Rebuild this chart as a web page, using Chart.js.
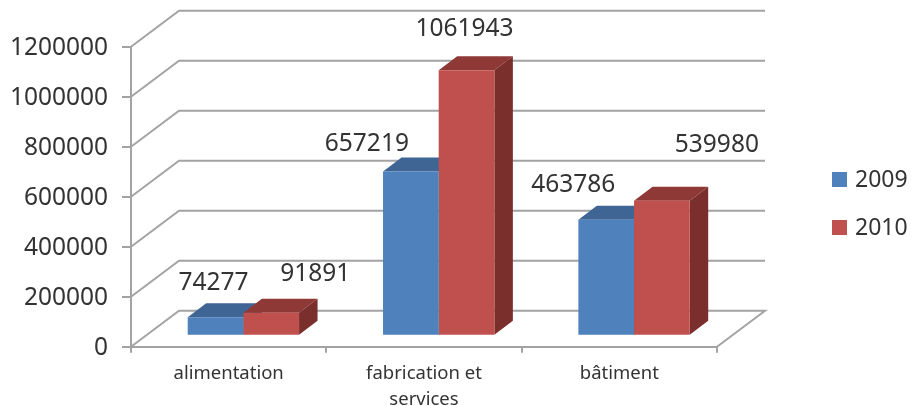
<!DOCTYPE html>
<html>
<head>
<meta charset="utf-8">
<style>
  html, body { margin: 0; padding: 0; background: #fff; }
  canvas { display: block; }
</style>
<script src="https://cdn.jsdelivr.net/npm/chart.js@4"></script>
</head>
<body>
<canvas id="chart" width="912" height="406"></canvas>
<script>
const categories = ['alimentation', ['fabrication et', 'services'], 'bâtiment'];
const years = ['2009', '2010'];
const values2009 = [74277, 657219, 463786];
const values2010 = [91891, 1061943, 539980];
const yTickStep = 200000;
const yMax = 1200000;

const fontName = '"Noto Sans", sans-serif';
const textColor = '#333333';
const gridColor = '#a3a3a3';

// hand placed value labels, same order as the values (offset from top of bar front)
const labelShift2009 = [[-2, -34], [-44, -27], [-33, -35]];
const labelShift2010 = [[44, -39], [-2, -41], [55, -56]];

// Fake 3D
const wallDepth = { x: 48, y: -36 };
const barOffset = { x: 14.7, y: -11 };
const barDepth = { x: 18.5, y: -14 };

function poly(ctx, points, color) {
    ctx.fillStyle = color;
    ctx.beginPath();
    points.forEach((p, i) => i ? ctx.lineTo(p[0], p[1]) : ctx.moveTo(p[0], p[1]));
    ctx.closePath();
    ctx.fill();
}

const fake3d = {
    id: 'fake3d',
    beforeDatasetsDraw(chart) {
        const ctx = chart.ctx;
        const y = chart.scales.y;
        const { left, right } = chart.chartArea;
        ctx.save();

        // Walls and floor
        ctx.strokeStyle = gridColor;
        ctx.lineWidth = 2;
        y.ticks.forEach(tick => {
            const py = y.getPixelForValue(tick.value);
            ctx.beginPath();
            ctx.moveTo(left, py);
            ctx.lineTo(left + wallDepth.x, py + wallDepth.y);
            ctx.lineTo(right + wallDepth.x, py + wallDepth.y);
            if (tick.value === 0) ctx.lineTo(right, py);
            ctx.stroke();
        });

        // Tops and sides first, the fronts of the next series have to cover them
        ctx.translate(barOffset.x, barOffset.y);
        chart.data.datasets.forEach((ds, d) => {
            chart.getDatasetMeta(d).data.forEach(bar => {
                const l = bar.x - bar.width / 2;
                const r = bar.x + bar.width / 2;
                const dx = barDepth.x;
                const dy = barDepth.y;
                poly(ctx, [[l, bar.y], [l + dx, bar.y + dy], [r + dx, bar.y + dy], [r, bar.y]], ds.topColor);
                poly(ctx, [[r, bar.y], [r + dx, bar.y + dy], [r + dx, bar.base + dy], [r, bar.base]], ds.sideColor);
            });
        });
        ctx.restore();
    },
    beforeDatasetDraw(chart) {
        chart.ctx.save();
        chart.ctx.translate(barOffset.x, barOffset.y);
    },
    afterDatasetDraw(chart) {
        chart.ctx.restore();
    },
    afterDraw(chart) {
        const ctx = chart.ctx;
        ctx.save();
        // Value labels
        ctx.font = '24.5px ' + fontName;
        ctx.fillStyle = textColor;
        ctx.textAlign = 'center';
        ctx.textBaseline = 'middle';
        chart.data.datasets.forEach((ds, d) => {
            chart.getDatasetMeta(d).data.forEach((bar, i) => {
                ctx.fillText(String(ds.data[i]),
                    bar.x + barOffset.x + ds.labelShift[i][0],
                    bar.y + barOffset.y + ds.labelShift[i][1]);
            });
        });
        // Legend
        ctx.font = '23px ' + fontName;
        ctx.textAlign = 'left';
        chart.data.datasets.forEach((ds, d) => {
            const top = 172 + d * 48;
            ctx.fillStyle = ds.backgroundColor;
            ctx.fillRect(832, top, 15, 15);
            ctx.fillStyle = textColor;
            ctx.fillText(ds.label, 855, top + 8);
        });
        ctx.restore();
    }
};

new Chart(document.getElementById('chart').getContext('2d'), {
    type: 'bar',
    data: {
        labels: categories,
        datasets: [
            {
                label: years[0],
                data: values2009,
                backgroundColor: '#4f81bd',
                topColor: '#3e6594',
                sideColor: '#335478',
                labelShift: labelShift2009
            },
            {
                label: years[1],
                data: values2010,
                backgroundColor: '#c0504d',
                topColor: '#8f3937',
                sideColor: '#7a2f2d',
                labelShift: labelShift2010
            }
        ]
    },
    options: {
        responsive: false,
        animation: false,
        layout: { padding: { top: 46.7, right: 195, left: 0, bottom: 0 } },
        plugins: { legend: { display: false }, tooltip: { enabled: false } },
        datasets: { bar: { barPercentage: 1, categoryPercentage: 0.57, clip: false } },
        scales: {
            x: {
                grid: { drawOnChartArea: false, color: gridColor, lineWidth: 2, tickLength: 6 },
                border: { color: gridColor, width: 2 },
                ticks: {
                    color: textColor,
                    font: { family: fontName, size: 18.5, lineHeight: 1.4 },
                    maxRotation: 0,
                    padding: 8
                },
                afterFit(scale) {
                    scale.height = 59.3;
                    scale.paddingLeft = 0;
                    scale.paddingRight = 0;
                }
            },
            y: {
                min: 0,
                max: yMax,
                grid: { drawOnChartArea: false, color: gridColor, lineWidth: 2, tickLength: 9 },
                border: { color: gridColor, width: 2 },
                ticks: {
                    stepSize: yTickStep,
                    color: textColor,
                    font: { family: fontName, size: 24.5 },
                    padding: 14,
                    labelOffset: 1,
                    callback: value => String(value)
                },
                afterFit(scale) {
                    scale.width = 131;
                    scale.paddingTop = 0;
                    scale.paddingBottom = 0;
                }
            }
        }
    },
    plugins: [fake3d]
});
</script>
</body>
</html>
